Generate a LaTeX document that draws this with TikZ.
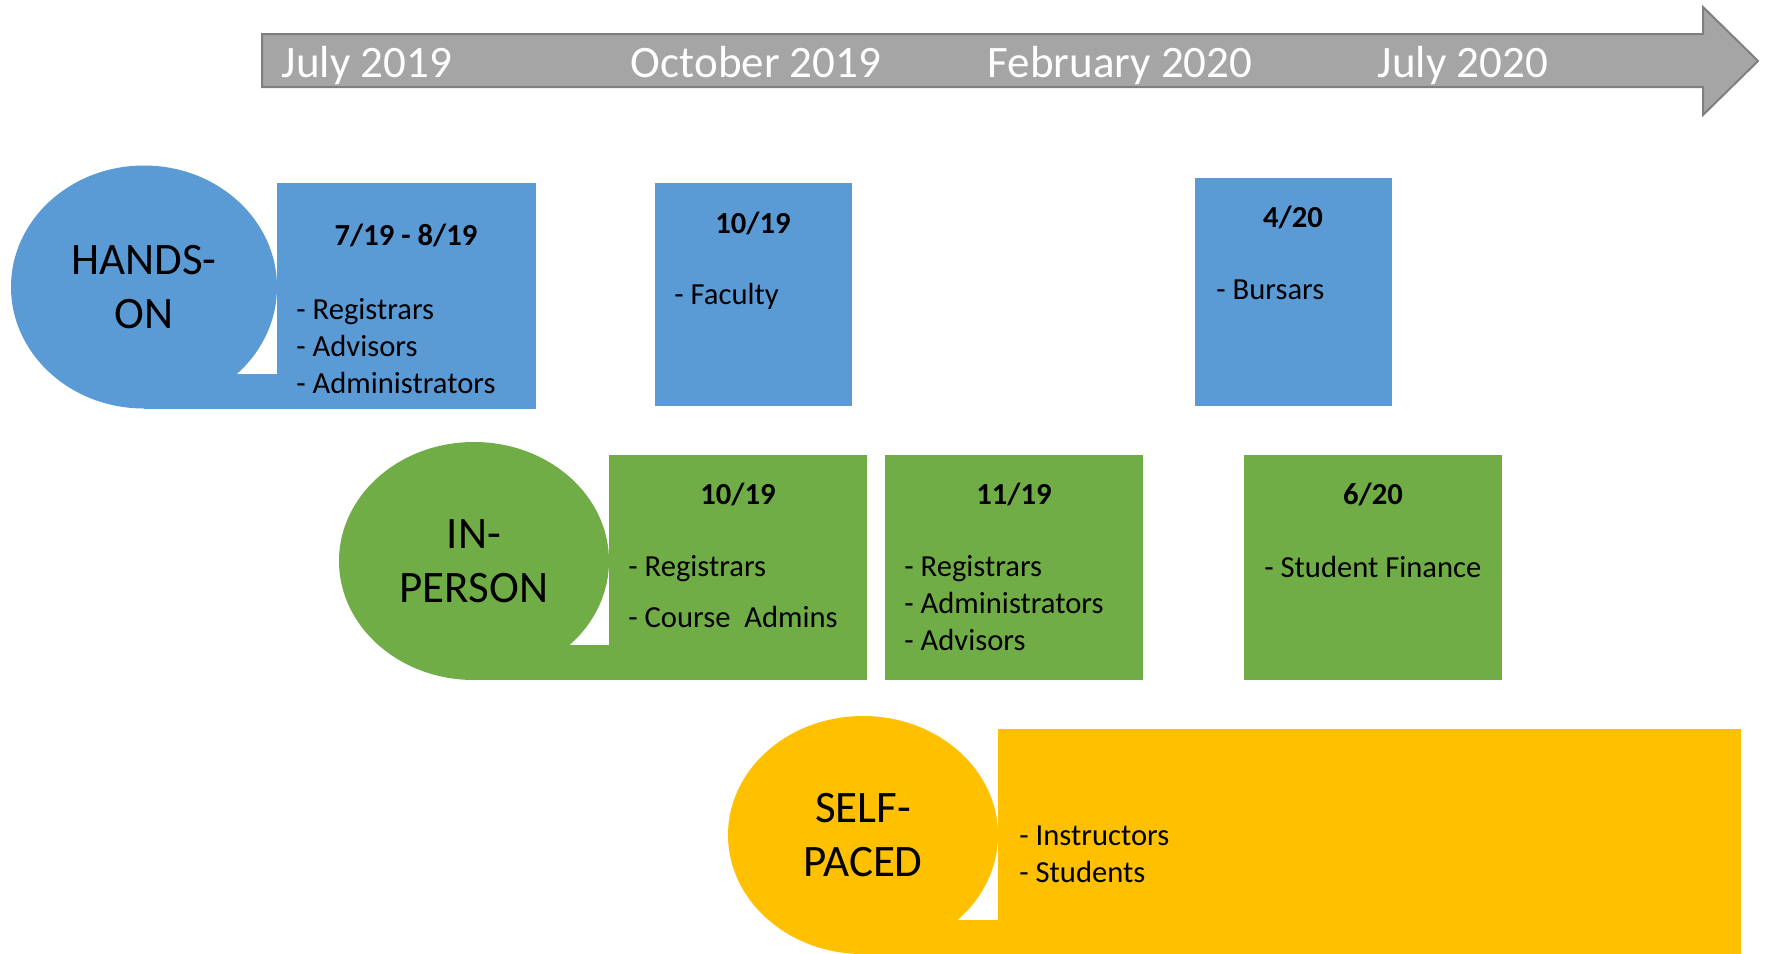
\documentclass[tikz,border=0pt]{standalone}
\usepackage{fontspec}
\setmainfont{Carlito}
\usetikzlibrary{shapes.geometric}
\definecolor{handsblue}{HTML}{5B9BD5}
\definecolor{persongreen}{HTML}{70AD47}
\definecolor{selfyellow}{HTML}{FFC000}
\definecolor{arrowfill}{HTML}{A5A5A5}
\definecolor{arrowline}{HTML}{7F7F7F}
\begin{document}
\begin{tikzpicture}[x=0.5pt,y=-0.5pt]
		\tikzstyle{bubble}=[ellipse,inner sep=0pt,minimum width=135pt,minimum height=119pt,align=center,font=\fontsize{22.5}{27}\selectfont]
		\tikzstyle{box}=[rectangle,inner sep=0pt,anchor=north west]
		\tikzstyle{title}=[inner sep=0pt,font=\fontsize{15.3}{18.3}\selectfont\bfseries]
		\tikzstyle{list}=[anchor=west,align=left,inner sep=0pt,font=\fontsize{15.3}{18.3}\selectfont]
		\tikzstyle{month}=[text=white,inner sep=0pt,text depth=0pt,font=\fontsize{22.5}{27}\selectfont]
		
		\clip (0,0) rectangle (1765,953);
		
		% timeline arrow
		\draw[fill=arrowfill, draw=arrowline, line width=1pt] (262,34) -- (1703,34) -- (1703,7) -- (1758,61) -- (1703,115) -- (1703,87) -- (262,87) -- cycle;
		\node (m1) at (367,62) [month] {July 2019};
		\node (m2) at (756,62) [month] {October 2019};
		\node (m3) at (1120,62) [month] {February 2020};
		\node (m4) at (1463,62) [month] {July 2020};
		
		% hands-on
		\node (hands) at (144,287) [bubble, fill=handsblue, minimum width=133pt, minimum height=121.5pt] {HANDS-\\ON};
		\fill[handsblue] (hands.south) rectangle (277,374);
		\node (hb1) at (277,183) [box, fill=handsblue, minimum width=129.5pt, minimum height=113pt] {};
		\node (hb2) at (655,183) [box, fill=handsblue, minimum width=98.5pt, minimum height=111.5pt] {};
		\node (hb3) at (1195,178) [box, fill=handsblue, minimum width=98.5pt, minimum height=114pt] {};
		\node (hb1t) at (406,235) [title] {7/19 - 8/19};
		\node (hb1l) at (296,346) [list] {- Registrars\\- Advisors\\- Administrators};
		\node (hb2t) at (753,223) [title] {10/19};
		\node (hb2l) at (674,296) [list] {- Faculty};
		\node (hb3t) at (1293,217) [title] {4/20};
		\node (hb3l) at (1216,290) [list] {- Bursars};
		
		% in-person
		\node (person) at (474,561) [bubble, fill=persongreen] {IN-\\PERSON};
		\fill[persongreen] (person.south) rectangle (609,645);
		\node (pg1) at (609,455) [box, fill=persongreen, minimum width=129pt, minimum height=112.5pt] {};
		\node (pg2) at (885,455) [box, fill=persongreen, minimum width=129pt, minimum height=112.5pt] {};
		\node (pg3) at (1244,455) [box, fill=persongreen, minimum width=129pt, minimum height=112.5pt] {};
		\node (pg1t) at (738,494) [title] {10/19};
		\node (pg1l) at (628,592) [list] {- Registrars\\[7.2pt]- Course~ Admins};
		\node (pg2t) at (1014,494) [title] {11/19};
		\node (pg2l) at (904,603) [list] {- Registrars\\- Administrators\\- Advisors};
		\node (pg3t) at (1373,494) [title] {6/20};
		\node (pg3l) at (1264,567) [list] {- Student Finance};
		
		% self-paced
		\node (self) at (863,835) [bubble, fill=selfyellow] {SELF-\\PACED};
		\fill[selfyellow] (self.south) rectangle (998,920);
		\node (sy1) at (998,729) [box, fill=selfyellow, minimum width=371.5pt, minimum height=120pt] {};
		\node (sy1l) at (1019,854) [list] {- Instructors\\- Students};
		
		\end{tikzpicture}
\end{document}
